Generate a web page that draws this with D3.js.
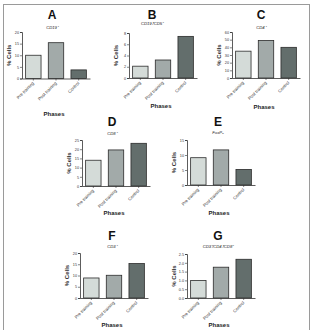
<!DOCTYPE html>
<html><head><meta charset="utf-8">
<script src="https://cdn.jsdelivr.net/npm/d3@7"></script>
<style>html,body{margin:0;padding:0;background:#fff}svg{display:block}</style>
</head><body>
<script>
// ---- data ----
const categories = ["Pre training", "Post training", "Control"];
const letters = ["A", "B", "C", "D", "E", "F", "G"];
const subtitles = ["CD19⁺", "CD19⁺/CD5⁺", "CD4⁺", "CD8⁺", "FoxP₃", "CD3⁺", "CD3⁺/CD4⁺/CD8⁺"];
const valuesCD19 = [10, 15.4, 3.7];
const valuesCD19CD5 = [2.1, 3.2, 7.4];
const valuesCD4 = [35, 49, 40];
const valuesCD8 = [14, 19.6, 23.2];
const valuesFoxP3 = [9.1, 11.7, 5.2];
const valuesCD3 = [8.9, 10.1, 15.3];
const valuesCD3CD4CD8 = [1.0, 1.75, 2.2];
const ticksCD19 = [0, 5, 10, 15, 20];
const ticksCD19CD5 = [0, 2, 4, 6, 8];
const ticksCD4 = [0, 10, 20, 30, 40, 50, 60];
const ticksCD8 = [0, 5, 10, 15, 20, 25];
const ticksFoxP3 = [0, 5, 10, 15];
const ticksCD3 = [0, 5, 10, 15, 20];
const ticksCD3CD4CD8 = [0, 0.5, 1.0, 1.5, 2.0, 2.5];
const yLabel = "% Cells";
const xLabel = "Phases";

// ---- layout ----
const W = 312, H = 330;
const colors = ["#d4dbd8", "#a2aaa9", "#636e6c"];
const panels = [
  {values: valuesCD19, ticks: ticksCD19, fmt: d3.format("d"), ax: 22, top: 32, base: 78.5, lx: 52, ly: 18.5, sy: 28.5, py: 116},
  {values: valuesCD19CD5, ticks: ticksCD19CD5, fmt: d3.format("d"), ax: 129, top: 33, base: 78, lx: 152, ly: 18.5, sy: 25, py: 108},
  {values: valuesCD4, ticks: ticksCD4, fmt: d3.format("d"), ax: 232, top: 32, base: 78, lx: 261, ly: 18.5, sy: 29, py: 109},
  {values: valuesCD8, ticks: ticksCD8, fmt: d3.format("d"), ax: 82, top: 140, base: 186, lx: 112, ly: 125.5, sy: 135, py: 215},
  {values: valuesFoxP3, ticks: ticksFoxP3, fmt: d3.format("d"), ax: 187, top: 140, base: 185, lx: 218, ly: 125.5, sy: 134, py: 215},
  {values: valuesCD3, ticks: ticksCD3, fmt: d3.format("d"), ax: 80, top: 253, base: 298, lx: 112, ly: 239.5, sy: 248, py: 327},
  {values: valuesCD3CD4CD8, ticks: ticksCD3CD4CD8, fmt: d3.format(".1f"), ax: 187, top: 254, base: 298, lx: 218, ly: 239.5, sy: 248, py: 327}
];

const svg = d3.select("body").append("svg").attr("width", W).attr("height", H)
  .style("font-family", "Liberation Sans, Arial, sans-serif");

svg.append("rect").attr("x", 3.5).attr("y", 4.5).attr("width", 306).attr("height", 340)
  .attr("fill", "none").attr("stroke", "#9a9a9a").attr("stroke-width", 1);

panels.forEach((p, i) => {
  const g = svg.append("g");
  const x = d3.scaleBand().domain(categories).range([p.ax, p.ax + 68]).paddingInner(0.32).paddingOuter(0.16);
  const y = d3.scaleLinear().domain([d3.min(p.ticks), d3.max(p.ticks)]).range([p.base, p.top]);

  // letter & subtitle
  g.append("text").attr("x", p.lx).attr("y", p.ly).attr("text-anchor", "middle")
    .attr("font-size", 12).attr("font-weight", "bold").attr("fill", "#111").text(letters[i]);
  g.append("text").attr("x", p.lx).attr("y", p.sy).attr("text-anchor", "middle")
    .attr("font-size", 4.2).attr("font-style", "italic").attr("fill", "#222").text(subtitles[i]);

  // bars
  g.selectAll("rect.bar").data(p.values).join("rect").attr("class", "bar")
    .attr("x", (d, j) => x(categories[j]))
    .attr("y", d => y(d))
    .attr("width", x.bandwidth())
    .attr("height", d => y(0) - y(d))
    .attr("fill", (d, j) => colors[j])
    .attr("stroke", "#2b2b2b").attr("stroke-width", 0.8);

  // y axis
  const ya = g.append("g").attr("transform", `translate(${p.ax},0)`)
    .call(d3.axisLeft(y).tickValues(p.ticks).tickFormat(p.fmt).tickSize(2).tickPadding(1));
  ya.select(".domain").attr("stroke", "#333").attr("stroke-width", 0.8);
  ya.selectAll(".tick line").attr("stroke", "#333").attr("stroke-width", 0.6);
  ya.selectAll(".tick text").attr("font-size", 3.8).attr("fill", "#333").attr("font-family", "Liberation Sans, Arial, sans-serif");

  // x axis
  const xa = g.append("g").attr("transform", `translate(0,${p.base})`)
    .call(d3.axisBottom(x).tickSize(2).tickSizeOuter(0).tickPadding(2));
  xa.select(".domain").attr("stroke", "#333").attr("stroke-width", 0.8);
  xa.selectAll(".tick line").attr("stroke", "#333").attr("stroke-width", 0.6);
  xa.selectAll(".tick text").attr("font-size", 4.4).attr("fill", "#333")
    .attr("font-family", "Liberation Sans, Arial, sans-serif")
    .attr("text-anchor", "end").attr("dy", null).attr("y", 0)
    .attr("transform", "translate(1,5) rotate(-45)");

  // axis titles
  g.append("text").attr("transform", `translate(${p.ax - 11},${(p.top + p.base) / 2}) rotate(-90)`)
    .attr("text-anchor", "middle").attr("font-size", 6).attr("font-weight", "bold").attr("fill", "#333").text(yLabel);
  g.append("text").attr("x", p.ax + 32).attr("y", p.py).attr("text-anchor", "middle")
    .attr("font-size", 6).attr("font-weight", "bold").attr("fill", "#222").text(xLabel);
});
</script>
</body></html>
